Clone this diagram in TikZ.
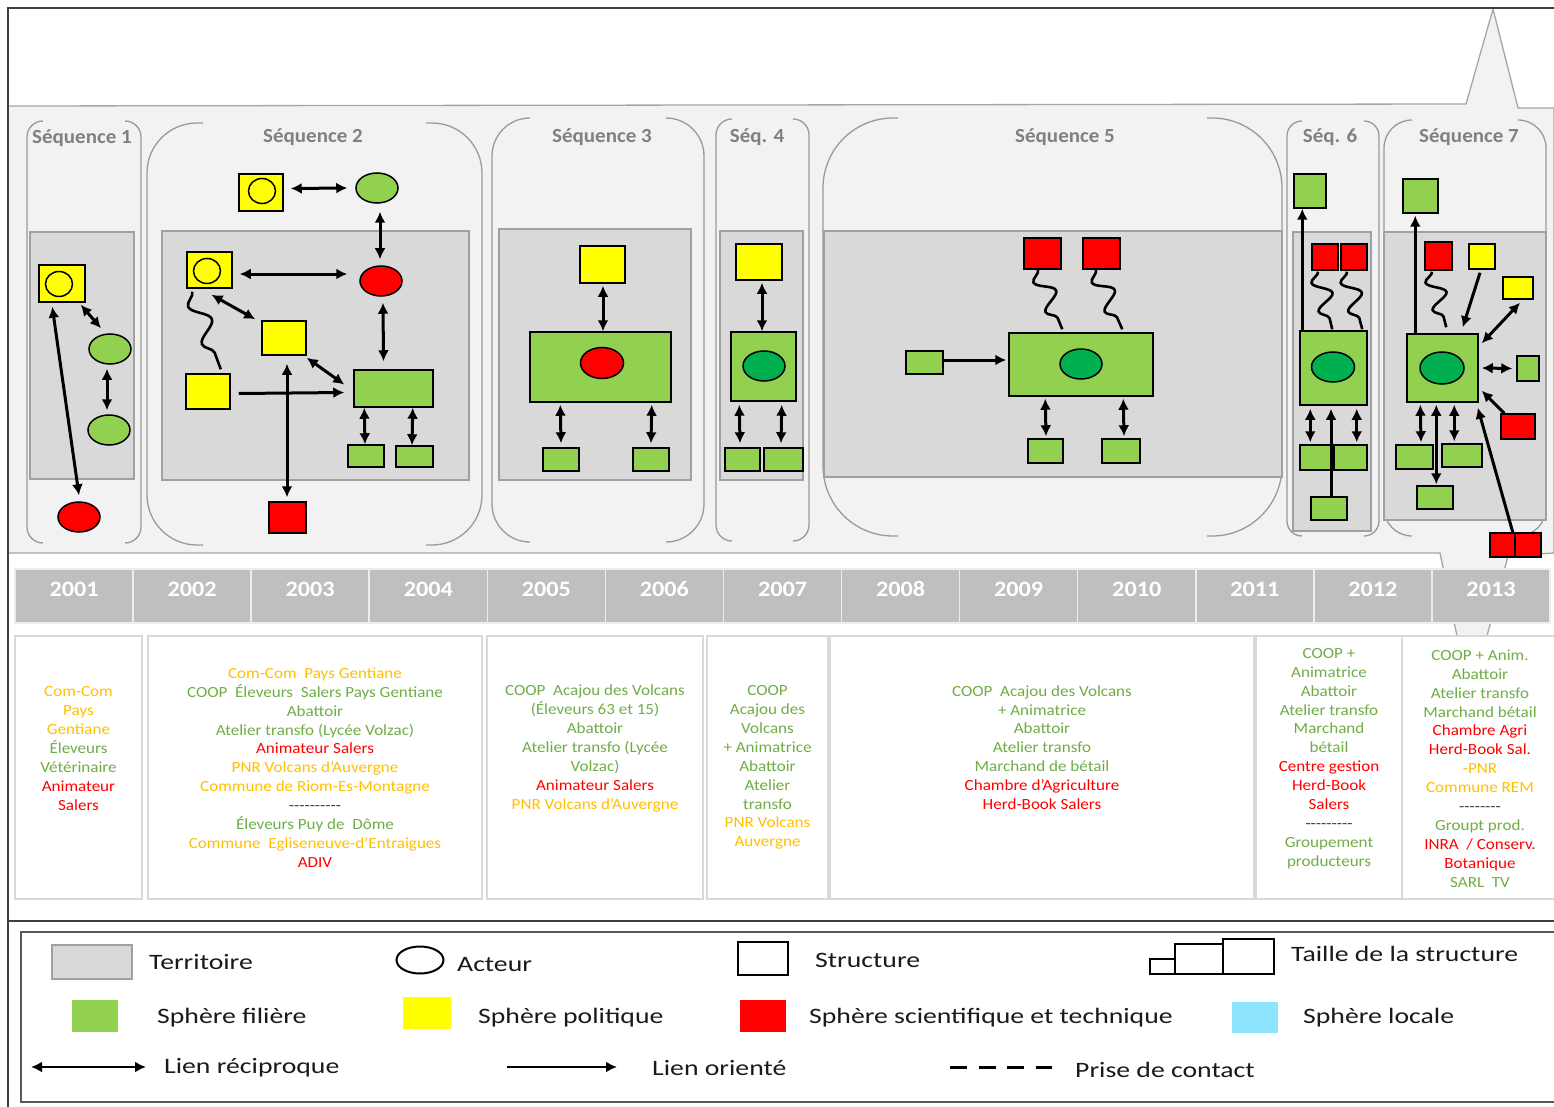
\documentclass[tikz,border=0pt]{standalone}
\usepackage{fontspec}
\setmainfont{Carlito}
\newfontfamily\boxfont[FakeStretch=1.1]{Carlito}
\newfontfamily\legfont[FakeStretch=1.26]{Carlito}
\newfontfamily\seqfont[FakeStretch=1.05]{Carlito}
\newfontfamily\yearfont[FakeStretch=1.1]{Carlito}
\usetikzlibrary{shapes.geometric,arrows.meta,calc,fit,decorations.pathmorphing}
\definecolor{cgreen}{HTML}{92D050}
\definecolor{cyellow}{HTML}{FFFF00}
\definecolor{cred}{HTML}{FF0000}
\definecolor{cdark}{HTML}{00B050}
\definecolor{cloc}{HTML}{8DE4FD}
\definecolor{terrc}{HTML}{D9D9D9}
\definecolor{terrln}{HTML}{A0A0A0}
\definecolor{bandc}{HTML}{F2F2F2}
\definecolor{bandln}{HTML}{A6A6A6}
\definecolor{seqln}{HTML}{9A9A9A}
\definecolor{seqgray}{HTML}{808080}
\definecolor{yearc}{HTML}{BFBFBF}
\definecolor{yearln}{HTML}{EDEDED}
\definecolor{tboxln}{HTML}{D9D9D9}
\definecolor{tOr}{HTML}{FFC000}
\definecolor{tGr}{HTML}{70AD47}
\definecolor{tRd}{HTML}{FF0000}
\definecolor{tDk}{HTML}{404040}
\definecolor{framec}{HTML}{3F3F3F}
\definecolor{legln}{HTML}{595959}
\definecolor{ltxt}{HTML}{1A1A1A}
\newcommand\tor[1]{\textcolor{tOr}{#1}}
\newcommand\tgr[1]{\textcolor{tGr}{#1}}
\newcommand\trd[1]{\textcolor{tRd}{#1}}
\newcommand\tdk[1]{\textcolor{tDk}{#1}}
% sequence bracket: x1 y1 x2 y2 radius extension
\newcommand\seqbr[6]{%
  \draw[seqline, rounded corners=#5pt] (#1+#5+#6,#2) -- (#1,#2) -- (#1,#4) -- (#1+#5+#6,#4);
  \draw[seqline, rounded corners=#5pt] (#3-#5-#6,#2) -- (#3,#2) -- (#3,#4) -- (#3-#5-#6,#4);}
\begin{document}
\begin{tikzpicture}[x=1pt,y=-1pt,
  box/.style={rectangle, draw=black, line width=1.5pt, inner sep=0pt},
  gbox/.style={box, fill=cgreen},
  ybox/.style={box, fill=cyellow},
  rbox/.style={box, fill=cred},
  ell/.style={ellipse, draw=black, line width=1.5pt, inner sep=0pt, minimum width=42pt, minimum height=30pt},
  gell/.style={ell, fill=cgreen},
  rell/.style={ell, fill=cred},
  dell/.style={ell, fill=cdark},
  aell/.style={ell, fill=cyellow, minimum width=27pt, minimum height=25pt},
  bi/.style={line width=3pt, {Latex[length=11pt,width=11pt]}-{Latex[length=11pt,width=11pt]}},
  one/.style={line width=3pt, -{Latex[length=11pt,width=11pt]}},
  zz/.style={line width=2.6pt, decorate, decoration={snake, segment length=#1, amplitude=9pt, mirror}},
  zz/.default=30pt,
  seqline/.style={draw=seqln, line width=1.3pt},
  terrbox/.style={rectangle, fill=terrc, draw=terrln, line width=1.3pt, inner sep=0pt},
  seqlab/.style={text=seqgray, font=\seqfont\bfseries\fontsize{20}{24}\selectfont, inner sep=0pt},
  yearcell/.style={rectangle, fill=yearc, draw=yearln, line width=1.5pt, minimum width=118.08pt, minimum height=54pt, inner sep=0pt},
  yeartext/.style={inner sep=0pt, text=white, font=\yearfont\bfseries\fontsize{22}{26}\selectfont},
  tbox/.style={rectangle, draw=tboxln, line width=1.8pt, fill=white, inner sep=0pt},
  ttext/.style={align=center, inner sep=0pt, font=\boxfont\fontsize{15.5}{18.9}\selectfont},
  lt/.style={anchor=west, inner sep=0pt, text=ltxt, font=\legfont\fontsize{22}{26}\selectfont},
  lbox/.style={rectangle, draw=black, line width=2pt, inner sep=0pt}
  ]
\useasboundingbox (0,0) rectangle (1554,1107);
\fill[white] (0,0) rectangle (1554,1107);

% ---------- band (callout) ----------
\filldraw[fill=bandc, draw=bandln, line width=1.3pt]
  (8,106) -- (1466,104) -- (1493,9) -- (1518,108) -- (1554,108) -- (1554,553)
  -- (1508,556) -- (1487,636) -- (1457,636) -- (1440,553) -- (8,553) -- cycle;

% ---------- sequence brackets ----------
\seqbr{27}{121}{141}{543}{16}{0}
\seqbr{147}{123}{482}{545}{50}{6}
\seqbr{492}{118}{704}{542}{38}{0}
\seqbr{716}{119}{809}{541}{16}{0}
\seqbr{823}{118}{1282}{536}{70}{5}
\seqbr{1287}{121}{1379}{536}{15}{0}
\seqbr{1384}{120}{1546}{536}{28}{0}

% ---------- territories ----------
\node[terrbox, fit={(30,232) (134,479)}] (tr1) {};
\node[terrbox, fit={(162,231) (469,480)}] (tr2) {};
\node[terrbox, fit={(499,229) (691,480)}] (tr3) {};
\node[terrbox, fit={(720,231) (803,480)}] (tr4) {};
\node[terrbox, fit={(824,231) (1282,477)}] (tr5) {};
\node[terrbox, fit={(1293,232) (1371,531)}] (tr6) {};
\node[terrbox, fit={(1384,232) (1546,520)}] (tr7) {};

% ---------- sequence labels ----------
\node[seqlab] (l1) at (82,138) {Séquence 1};
\node[seqlab] (l2) at (313,137) {Séquence 2};
\node[seqlab] (l3) at (602,137) {Séquence 3};
\node[seqlab] (l4) at (757,137) {Séq. 4};
\node[seqlab] (l5) at (1065,137) {Séquence 5};
\node[seqlab] (l6) at (1330,137) {Séq. 6};
\node[seqlab] (l7) at (1469,137) {Séquence 7};

% ---------- Sequence 1 ----------
\node[ybox, fit={(39,265) (85,302)}] (s1y) {};
\node[aell] (s1ya) at (59,284) {};
\node[gell] (s1g1) at (110,349) {};
\node[gell] (s1g2) at (109,430) {};
\node[rell] (s1r) at (79,517) {};
\draw[bi] ($(s1y.south east)+(-5,2)$) -- ($(s1g1.north)+(-9,-5)$);
\draw[bi] ($(s1g1.south)+(-3,4)$) -- ($(s1g2.north)+(-2,-4)$);
\draw[bi] ($(s1y.south west)+(14,4)$) -- ($(s1r.north)+(0,-6)$);

% ---------- Sequence 2 ----------
\node[ybox, fit={(239,174) (283,211)}] (s2a) {};
\node[aell] (s2aa) at (262,191) {};
\node[gell] (s2b) at (377,188) {};
\node[ybox, fit={(187,252) (232,288)}] (s2d) {};
\node[aell] (s2da) at (207,271) {};
\node[rell] (s2c) at (381,281) {};
\node[ybox, fit={(262,321) (306,355)}] (s2e) {};
\node[ybox, fit={(186,374) (230,409)}] (s2f) {};
\node[gbox, fit={(354,370) (433,407)}] (s2g) {};
\node[rbox, fit={(269,502) (306,533)}] (s2h) {};
\node[gbox, fit={(348,445) (384,467)}] (s2i) {};
\node[gbox, fit={(396,446) (433,467)}] (s2j) {};
\draw[bi] ($(s2a.east)+(7,-4)$) -- ($(s2b.west)+(-8,0)$);
\draw[bi] ($(s2b.south)+(3,8)$) -- ($(s2c.north)+(-1,-6)$);
\draw[bi] ($(s2d.east)+(7,4)$) -- ($(s2c.west)+(-12,-7)$);
\draw[bi] ($(s2d.south)+(2,6)$) -- ($(s2e.north west)+(-6,-1)$);
\draw[zz=40pt] ($(s2d.south west)+(6,3)$) -- ($(s2f.north east)+(-10,-4)$);
\draw[bi] ($(s2c.south)+(2,6)$) -- ($(s2g.north)+(-10,-8)$);
\draw[bi] ($(s2e.south east)+(0,2)$) -- ($(s2g.west)+(-9,-4)$);
\draw[one] ($(s2f.east)+(8,2)$) -- ($(s2g.west)+(-9,4)$);
\draw[bi] ($(s2e.south)+(3,8)$) -- ($(s2h.north)+(-0.5,-4)$);
\draw[bi] ($(s2g.south west)+(11,0)$) -- ($(s2i.north)+(-1,0)$);
\draw[bi] ($(s2g.south east)+(-21,0)$) -- ($(s2j.north)+(-2.5,0)$);

% ---------- Sequence 3 ----------
\node[ybox, fit={(580,246) (625,283)}] (s3y) {};
\node[gbox, fit={(530,332) (671,402)}] (s3g) {};
\node[rell, minimum width=43pt, minimum height=31pt] (s3a) at (602,363) {};
\node[gbox, fit={(543,448) (579,471)}] (s3i) {};
\node[gbox, fit={(633,448) (669,471)}] (s3j) {};
\draw[bi] ($(s3y.south)+(0.5,2)$) -- ($(s3g.north)+(2.5,0)$);
\draw[bi] ($(s3g.south west)+(31,2)$) -- ($(s3i.north)+(0,-4)$);
\draw[bi] ($(s3g.south east)+(-20,2)$) -- ($(s3j.north)+(0,-4)$);

% ---------- Sequence 4 ----------
\node[ybox, fit={(736,244) (782,280)}] (s4y) {};
\node[gbox, fit={(731,332) (796,401)}] (s4g) {};
\node[dell] (s4a) at (764,366) {};
\node[gbox, fit={(725,448) (760,471)}] (s4i) {};
\node[gbox, fit={(764,448) (803,471)}] (s4j) {};
\draw[bi] ($(s4y.south)+(3,2)$) -- ($(s4g.north)+(-1.5,0)$);
\draw[bi] ($(s4g.south west)+(9,3)$) -- ($(s4i.north)+(-2.5,-4)$);
\draw[bi] ($(s4g.south east)+(-15,3)$) -- ($(s4j.north)+(-2.5,-4)$);

% ---------- Sequence 5 ----------
\node[rbox, fit={(1024,238) (1061,269)}] (s5r1) {};
\node[rbox, fit={(1083,238) (1120,269)}] (s5r2) {};
\node[gbox, fit={(1009,333) (1153,396)}] (s5g) {};
\node[dell] (s5a) at (1081,364) {};
\node[gbox, fit={(906,351) (943,374)}] (s5l) {};
\node[gbox, fit={(1028,439) (1063,463)}] (s5i) {};
\node[gbox, fit={(1102,439) (1140,463)}] (s5j) {};
\draw[zz=32pt] ($(s5r1.south)+(-4.5,0)$) -- ($(s5g.north west)+(54,-3)$);
\draw[zz=32pt] ($(s5r2.south)+(-5.5,0)$) -- ($(s5g.north west)+(114,-3)$);
\draw[one] ($(s5l.east)+(0,-2.5)$) -- ($(s5g.west)+(-2,-4.5)$);
\draw[bi] ($(s5g.south west)+(37,2)$) -- ($(s5i.north)+(0.5,-2)$);
\draw[bi] ($(s5g.south west)+(115,2)$) -- ($(s5j.north)+(3,-2)$);

% ---------- Sequence 6 ----------
\node[gbox, fit={(1294,174) (1326,208)}] (s6t) {};
\node[rbox, fit={(1312,244) (1338,270)}] (s6r1) {};
\node[rbox, fit={(1341,244) (1367,270)}] (s6r2) {};
\node[gbox, fit={(1300,331) (1367,405)}] (s6g) {};
\node[dell, minimum width=43pt] (s6a) at (1333,367) {};
\node[gbox, fit={(1300,445) (1334,470)}] (s6i) {};
\node[gbox, fit={(1334,445) (1367,470)}] (s6j) {};
\node[gbox, fit={(1311,497) (1347,520)}] (s6k) {};
\draw[one] ($(s6g.north west)+(3,0)$) -- ($(s6t.south west)+(9,0)$);
\draw[zz=29.5pt] ($(s6r1.south)+(-7,1)$) -- ($(s6g.north west)+(33,-1)$);
\draw[zz=29.5pt] ($(s6r2.south)+(-7,1)$) -- ($(s6g.north west)+(63,-1)$);
\draw[bi] ($(s6g.south west)+(11,3)$) -- ($(s6i.north west)+(11,-2)$);
\draw[bi] ($(s6g.south east)+(-11,3)$) -- ($(s6j.north east)+(-11,-2)$);
\draw[one] ($(s6k.north)+(2,0)$) -- ($(s6g.south)+(-2.5,3)$);

% ---------- Sequence 7 ----------
\node[gbox, fit={(1403,179) (1438,213)}] (s7t) {};
\node[rbox, fit={(1425,242) (1452,270)}] (s7r) {};
\node[ybox, fit={(1469,244) (1495,269)}] (s7y1) {};
\node[ybox, fit={(1503,277) (1533,299)}] (s7y2) {};
\node[gbox, fit={(1407,334) (1478,402)}] (s7g) {};
\node[dell, minimum width=44pt, minimum height=32pt] (s7a) at (1442,368) {};
\node[gbox, fit={(1517,356) (1539,381)}] (s7s) {};
\node[rbox, fit={(1501,414) (1535,439)}] (s7rr) {};
\node[gbox, fit={(1396,445) (1433,469)}] (s7i) {};
\node[gbox, fit={(1442,444) (1482,467)}] (s7j) {};
\node[gbox, fit={(1417,486) (1453,509)}] (s7k) {};
\node[rbox, fit={(1490,533) (1515,557)}] (s7p1) {};
\node[rbox, fit={(1515,533) (1541,557)}] (s7p2) {};
\draw[one] ($(s7g.north west)+(9,0)$) -- ($(s7t.south west)+(13,2)$);
\draw[zz=28.5pt] ($(s7r.south)+(-6.5,1)$) -- ($(s7g.north west)+(40,-6)$);
\draw[one] ($(s7y1.south)+(-2,3)$) -- ($(s7g.north east)+(-16,-6)$);
\draw[bi] ($(s7y2.south)+(2,3)$) -- ($(s7g.north east)+(3,10)$);
\draw[bi] ($(s7g.east)+(3,0)$) -- ($(s7s.west)+(-4,0)$);
\draw[one] ($(s7rr.north west)+(4,0)$) -- ($(s7g.south east)+(3,-12)$);
\draw[bi] ($(s7g.south west)+(14,2)$) -- ($(s7i.north)+(6.5,-2)$);
\draw[bi] ($(s7g.south west)+(48,2)$) -- ($(s7j.north west)+(13,-2)$);
\draw[bi] ($(s7g.south west)+(30,2)$) -- ($(s7k.north west)+(20,-1)$);
\draw[one] ($(s7p1.north east)+(-3,0)$) -- ($(s7g.south east)+(-1,5)$);

% ---------- year bar ----------
\foreach \yr [count=\i from 0] in {2001,...,2013} {
  \node[yearcell] (y\yr) at (15+118.08*\i+59.04, 596) {};
  \node[yeartext] (yt\yr) at ($(y\yr.center)+(0,-7)$) {\yr};
}

% ---------- text boxes ----------
\node[tbox, fit={(15,636) (142,899)}] (b1) {};
\node[tbox, fit={(148,636) (482,899)}] (b2) {};
\node[tbox, fit={(487,636) (703,899)}] (b3) {};
\node[tbox, fit={(707,636) (828,899)}] (b4) {};
\node[tbox, fit={(830,636) (1254,899)}] (b5) {};
\node[tbox, fit={(1256,636) (1402,899)}] (b6) {};
\node[tbox, fit={(1402,636) (1560,899)}] (b7) {};

\node[ttext] (x1) at ($(b1.center)+(0,-19)$) {\tor{Com-Com}\\\tor{Pays}\\\tor{Gentiane}\\\tgr{Éleveurs}\\\tgr{Vétérinaire}\\\trd{Animateur}\\\trd{Salers}};
\node[ttext] (x2) at ($(b2.center)+(0,0)$) {\tor{Com-Com\ \ Pays Gentiane}\\\tgr{COOP\ \ Éleveurs\ \ Salers Pays Gentiane}\\\tgr{Abattoir}\\\tgr{Atelier transfo (Lycée Volzac)}\\\trd{Animateur Salers}\\\tor{PNR Volcans d’Auvergne}\\\tor{Commune de Riom-Es-Montagne}\\\tdk{-{}-{}-{}-{}-{}-{}-{}-{}-{}-}\\\tgr{Éleveurs Puy de\ \ Dôme}\\\tor{Commune\ \ Egliseneuve-d’Entraigues}\\\trd{ADIV}};
\node[ttext] (x3) at ($(b3.center)+(0,-19)$) {\tgr{COOP\ \ Acajou des Volcans}\\\tgr{(Éleveurs 63 et 15)}\\\tgr{Abattoir}\\\tgr{Atelier transfo (Lycée}\\\tgr{Volzac)}\\\trd{Animateur Salers}\\\tor{PNR Volcans d’Auvergne}};
\node[ttext] (x4) at ($(b4.center)+(0,0)$) {\tgr{COOP}\\\tgr{Acajou des}\\\tgr{Volcans}\\\tgr{+ Animatrice}\\\tgr{Abattoir}\\\tgr{Atelier}\\\tgr{transfo}\\\tor{PNR Volcans}\\\tor{Auvergne}};
\node[ttext] (x5) at ($(b5.center)+(0,-20)$) {\tgr{COOP\ \ Acajou des Volcans}\\\tgr{+ Animatrice}\\\tgr{Abattoir}\\\tgr{Atelier transfo}\\\tgr{Marchand de bétail}\\\trd{Chambre d’Agriculture}\\\trd{Herd-Book Salers}};
\node[ttext] (x6) at ($(b6.center)+(0,-9)$) {\tgr{COOP +}\\\tgr{Animatrice}\\\tgr{Abattoir}\\\tgr{Atelier transfo}\\\tgr{Marchand}\\\tgr{bétail}\\\trd{Centre gestion}\\\trd{Herd-Book}\\\trd{Salers}\\\tdk{-{}-{}-{}-{}-{}-{}-{}-{}-}\\\tgr{Groupement}\\\tgr{producteurs}};
\node[ttext] (x7) at ($(b7.center)+(-1,1)$) {\tgr{COOP + Anim.}\\\tgr{Abattoir}\\\tgr{Atelier transfo}\\\tgr{Marchand bétail}\\\trd{Chambre Agri}\\\trd{Herd-Book Sal.}\\\tor{-PNR}\\\tor{Commune REM}\\\tdk{-{}-{}-{}-{}-{}-{}-{}-}\\\tgr{Groupt prod.}\\\trd{INRA\ \ / Conserv.}\\\trd{Botanique}\\\tgr{SARL\ \ TV}};

% ---------- frame ----------
\draw[framec, line width=1.3pt] (1560,8) -- (8,8) -- (8,1110);
\draw[framec, line width=1.3pt] (8,921) -- (1560,921);

% ---------- legend ----------
\draw[legln, line width=1.5pt] (21,932) rectangle (1570,1102);
\node[terrbox, fit={(52,945) (132,979)}] (lg1) {};
\node[lt] (lg1t) at (149,962) {Territoire};
\node[ellipse, draw=black, line width=2pt, inner sep=0pt, minimum width=47pt, minimum height=27pt] (lg2) at (420,960) {};
\node[lt] (lg2t) at (457,965) {Acteur};
\node[lbox, fit={(738,942) (788,975)}] (lg3) {};
\node[lt] (lg3t) at (815,960) {Structure};
\node[lbox, fit={(1150,959) (1175,974)}] (lg4a) {};
\node[lbox, fit={(1175,944) (1223,974)}] (lg4b) {};
\node[lbox, fit={(1223,939) (1274,974)}] (lg4c) {};
\node[lt] (lg4t) at (1291,954) {Taille de la structure};
\node[rectangle, fill=cgreen, inner sep=0pt, fit={(72,1000) (118,1032)}] (lg5) {};
\node[lt] (lg5t) at (157,1018) {Sphère filière};
\node[rectangle, fill=cyellow, inner sep=0pt, fit={(403,997) (451,1029)}] (lg6) {};
\node[lt] (lg6t) at (478,1018) {Sphère politique};
\node[rectangle, fill=cred, inner sep=0pt, fit={(740,1000) (786,1032)}] (lg7) {};
\node[lt] (lg7t) at (809,1018) {Sphère scientifique et technique};
\node[rectangle, fill=cloc, inner sep=0pt, fit={(1232,1002) (1278,1033)}] (lg8) {};
\node[lt] (lg8t) at (1303,1018) {Sphère locale};
\coordinate (la1) at (31,1067);
\coordinate (la2) at (146,1067);
\draw[bi, line width=2.6pt] (la1) -- (la2);
\node[lt] (lg9t) at (164,1068) {Lien réciproque};
\coordinate (lo1) at (507,1067);
\coordinate (lo2) at (617,1067);
\draw[one, line width=2.6pt] (lo1) -- (lo2);
\node[lt] (lg10t) at (652,1068) {Lien orienté};
\coordinate (ld1) at (950,1067);
\coordinate (ld2) at (1052,1067);
\draw[line width=3pt, dash pattern=on 17pt off 11.5pt] (ld1) -- (ld2);
\node[lt] (lg11t) at (1075,1070) {Prise de contact};
\end{tikzpicture}
\end{document}
